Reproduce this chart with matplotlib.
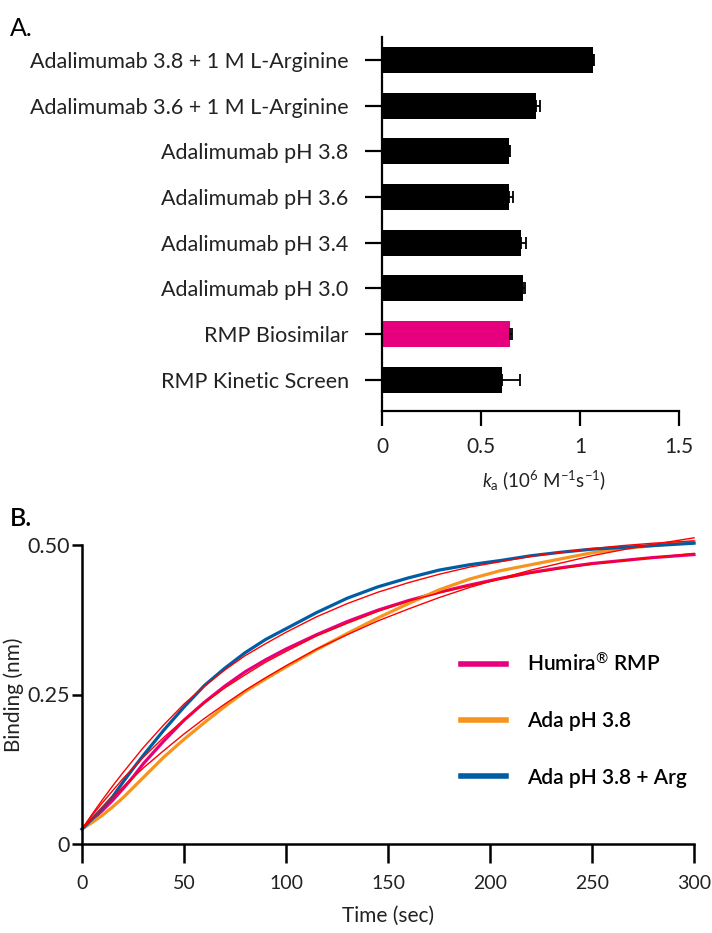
import numpy as np
import matplotlib.pyplot as plt

plt.rcParams['font.family'] = ['Lato', 'DejaVu Sans']
plt.rcParams['mathtext.fontset'] = 'custom'
plt.rcParams['mathtext.rm'] = 'Lato'
plt.rcParams['mathtext.it'] = 'Lato:italic'

# ---- panel A data ----
samples = ['Adalimumab 3.8 + 1 M L-Arginine', 'Adalimumab 3.6 + 1 M L-Arginine',
           'Adalimumab pH 3.8', 'Adalimumab pH 3.6', 'Adalimumab pH 3.4',
           'Adalimumab pH 3.0', 'RMP Biosimilar', 'RMP Kinetic Screen']
ka = [1.065, 0.78, 0.64, 0.64, 0.70, 0.71, 0.645, 0.605]
ka_err = [0.005, 0.02, 0.005, 0.02, 0.025, 0.01, 0.01, 0.09]
bar_colors = ['black', 'black', 'black', 'black', 'black', 'black', '#E6007E', 'black']

# ---- panel B data ----
time = [0, 5, 10, 15, 20, 25, 30, 40, 50, 60, 70, 80, 90, 100, 115, 130, 145,
        160, 175, 190, 205, 220, 235, 250, 265, 280, 300]
humira = [0.025, 0.040, 0.056, 0.073, 0.092, 0.112, 0.134, 0.172, 0.207, 0.237, 0.264,
          0.288, 0.308, 0.326, 0.350, 0.372, 0.391, 0.407, 0.421, 0.433, 0.444, 0.454,
          0.462, 0.469, 0.474, 0.479, 0.484]
humira_fit = [0.025, 0.048, 0.069, 0.089, 0.109, 0.127, 0.145, 0.178, 0.208, 0.236, 0.261,
              0.283, 0.304, 0.322, 0.348, 0.369, 0.389, 0.406, 0.420, 0.432, 0.443, 0.453,
              0.461, 0.468, 0.474, 0.479, 0.486]
ada38 = [0.025, 0.036, 0.048, 0.062, 0.077, 0.094, 0.111, 0.145, 0.175, 0.203, 0.230,
         0.255, 0.276, 0.296, 0.325, 0.352, 0.378, 0.402, 0.425, 0.443, 0.457, 0.467,
         0.477, 0.487, 0.494, 0.499, 0.505]
ada38_fit = [0.025, 0.043, 0.061, 0.078, 0.095, 0.111, 0.127, 0.156, 0.184, 0.210, 0.234,
             0.257, 0.278, 0.298, 0.326, 0.350, 0.373, 0.393, 0.412, 0.429, 0.444, 0.458,
             0.470, 0.482, 0.492, 0.501, 0.512]
ada38_arg = [0.025, 0.042, 0.060, 0.079, 0.103, 0.126, 0.148, 0.190, 0.229, 0.265, 0.294,
             0.320, 0.342, 0.360, 0.387, 0.411, 0.430, 0.445, 0.458, 0.467, 0.474, 0.482,
             0.488, 0.493, 0.496, 0.499, 0.503]
ada38_arg_fit = [0.025, 0.050, 0.074, 0.097, 0.119, 0.140, 0.161, 0.199, 0.234, 0.264, 0.291,
                 0.315, 0.335, 0.354, 0.380, 0.402, 0.421, 0.437, 0.451, 0.463, 0.472, 0.481,
                 0.488, 0.494, 0.499, 0.503, 0.507]

fig = plt.figure(figsize=(7.12, 9.33), dpi=100)
txt = '#222222'

# ---------------- panel A ----------------
axA = fig.add_axes([382 / 712, 1 - 411 / 933, 297 / 712, 374 / 933])
pos = np.arange(len(samples))[::-1]
axA.barh(pos, ka, height=0.57, color=bar_colors,
         xerr=[np.zeros(len(ka)), ka_err],
         error_kw=dict(ecolor='black', elinewidth=1.3, capsize=4, capthick=1.3))
axA.set_yticks(pos)
axA.set_yticklabels(samples, fontsize=15.5, color=txt)
axA.set_xlim(0, 1.5)
axA.set_ylim(-0.68, 7.5)
axA.set_xticks([0, 0.5, 1, 1.5])
axA.set_xticklabels(['0', '0.5', '1', '1.5'], fontsize=15, color=txt)
axA.set_xlabel(r'$k_\mathrm{a}$ (10$^6$ M$^{-1}$s$^{-1}$)', fontsize=13.5, color=txt)
axA.xaxis.set_label_coords(0.545, -0.155)
for s in ['top', 'right']:
    axA.spines[s].set_visible(False)
for s in ['left', 'bottom']:
    axA.spines[s].set_linewidth(1.6)
axA.tick_params(axis='y', length=12, width=1.6, pad=12)
axA.tick_params(axis='x', length=11, width=1.6, pad=8)
fig.text(10 / 712, 1 - 28 / 933, 'A.', fontsize=18, va='center', ha='left')

# ---------------- panel B ----------------
axB = fig.add_axes([82 / 712, 1 - 844 / 933, 612 / 712, 299 / 933])
axB.plot(time, humira, color='#E6007E', lw=2.3, label='Humira$^{\u00ae}$ RMP')
axB.plot(time, ada38, color='#F7941D', lw=2.3, label='Ada pH 3.8')
axB.plot(time, ada38_arg, color='#005DA4', lw=2.3, label='Ada pH 3.8 + Arg')
for fit in [humira_fit, ada38_fit, ada38_arg_fit]:
    axB.plot(time, fit, color='#FF0000', lw=1.0)
axB.set_xlim(0, 300)
axB.set_ylim(0, 0.5)
axB.set_xticks([0, 50, 100, 150, 200, 250, 300])
axB.set_xticklabels(['0', '50', '100', '150', '200', '250', '300'], fontsize=14, color=txt)
axB.set_yticks([0, 0.25, 0.5])
axB.set_yticklabels(['0', '0.25', '0.50'], fontsize=15.5, color=txt)
axB.set_xlabel('Time (sec)', fontsize=15, labelpad=10, color=txt)
axB.set_ylabel('Binding (nm)', fontsize=15, labelpad=2, color=txt)
for s in ['top', 'right']:
    axB.spines[s].set_visible(False)
for s in ['left', 'bottom']:
    axB.spines[s].set_linewidth(1.8)
axB.tick_params(axis='x', length=14, width=1.8, pad=8)
axB.tick_params(axis='y', length=7, width=1.8, pad=2)
for ln in axB.get_lines():
    ln.set_clip_on(False)
leg = axB.legend(loc='upper left', bbox_to_anchor=(0.588, 0.705), frameon=False,
                 fontsize=15, handlelength=2.2, handletextpad=1.0, labelspacing=1.75)
for h in leg.legend_handles:
    h.set_linewidth(4)
for t in leg.get_texts():
    t.set_fontweight('semibold')
fig.text(10 / 712, 1 - 518 / 933, 'B.', fontsize=18, va='center', ha='left', fontweight='semibold')

fig.savefig('out.png', dpi=100)
